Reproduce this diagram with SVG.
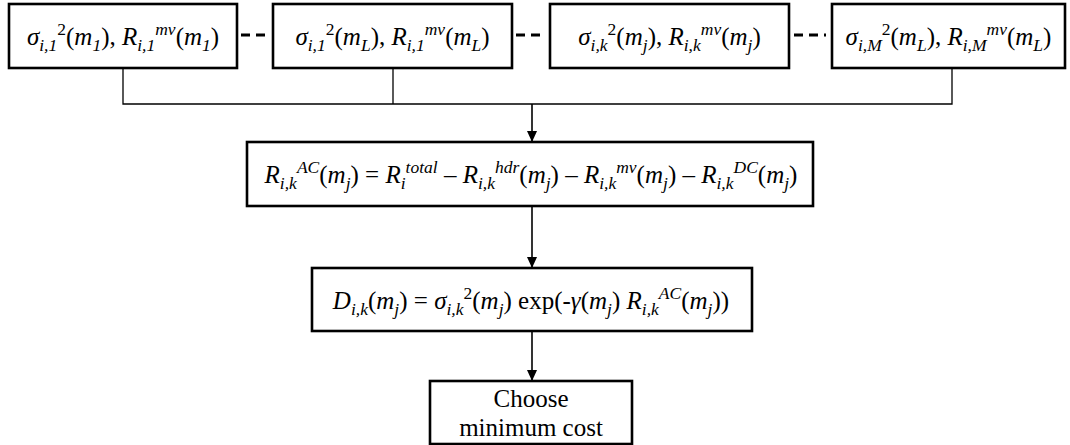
<svg xmlns="http://www.w3.org/2000/svg" width="1070" height="445" viewBox="0 0 1070 445">
<style>
.box{fill:#fff;stroke:#000;stroke-width:2.6}
.f{font-family:"Liberation Serif","Times New Roman",serif;font-size:25px;fill:#000;text-anchor:middle}
.i{font-style:italic}
.s{font-size:17.5px}
.c{fill:none;stroke:#000;stroke-width:1.3}
.a{fill:none;stroke:#000;stroke-width:1.6}
.d{fill:none;stroke:#000;stroke-width:3;stroke-dasharray:9 6}
</style>
<defs>
<marker id="ah" viewBox="0 0 12 12" refX="12" refY="6" markerWidth="12" markerHeight="11" markerUnits="userSpaceOnUse" orient="auto">
<path d="M0,0.5 L12,6 L0,11.5 Z" fill="#000"/>
</marker>
</defs>
<g id="connectors">
<polyline class="c" points="123,68 123,104 952,104 952,68"/>
<line class="c" x1="393" y1="68" x2="393" y2="104"/>
<line class="a" x1="532" y1="104" x2="532" y2="142" marker-end="url(#ah)"/>
<line class="a" x1="532" y1="206" x2="532" y2="268" marker-end="url(#ah)"/>
<line class="a" x1="532" y1="331" x2="532" y2="381" marker-end="url(#ah)"/>
<line class="d" x1="241" y1="35" x2="265" y2="35"/>
<line class="d" x1="516" y1="35" x2="545" y2="35"/>
<line class="d" x1="794" y1="35" x2="826" y2="35"/>
</g>
<g id="n1">
<rect class="box" x="9" y="4" width="228" height="64"/>
<text class="f" x="123" y="45"><tspan class="i">σ</tspan><tspan class="s i" dy="6">i,1</tspan><tspan class="s" dy="-16">2</tspan><tspan dy="10">(</tspan><tspan class="i">m</tspan><tspan class="s i" dy="6">1</tspan><tspan dy="-6">), </tspan><tspan class="i">R</tspan><tspan class="s i" dy="6">i,1</tspan><tspan class="s i" dy="-16">mv</tspan><tspan dy="10">(</tspan><tspan class="i">m</tspan><tspan class="s i" dy="6">1</tspan><tspan dy="-6">)</tspan></text>
</g>
<g id="n2">
<rect class="box" x="273" y="4" width="239" height="64"/>
<text class="f" x="392.5" y="45"><tspan class="i">σ</tspan><tspan class="s i" dy="6">i,1</tspan><tspan class="s" dy="-16">2</tspan><tspan dy="10">(</tspan><tspan class="i">m</tspan><tspan class="s i" dy="6">L</tspan><tspan dy="-6">), </tspan><tspan class="i">R</tspan><tspan class="s i" dy="6">i,1</tspan><tspan class="s i" dy="-16">mv</tspan><tspan dy="10">(</tspan><tspan class="i">m</tspan><tspan class="s i" dy="6">L</tspan><tspan dy="-6">)</tspan></text>
</g>
<g id="n3">
<rect class="box" x="550" y="4" width="239" height="64"/>
<text class="f" x="669.5" y="45"><tspan class="i">σ</tspan><tspan class="s i" dy="6">i,k</tspan><tspan class="s" dy="-16">2</tspan><tspan dy="10">(</tspan><tspan class="i">m</tspan><tspan class="s i" dy="6">j</tspan><tspan dy="-6">), </tspan><tspan class="i">R</tspan><tspan class="s i" dy="6">i,k</tspan><tspan class="s i" dy="-16">mv</tspan><tspan dy="10">(</tspan><tspan class="i">m</tspan><tspan class="s i" dy="6">j</tspan><tspan dy="-6">)</tspan></text>
</g>
<g id="n4">
<rect class="box" x="832" y="4" width="233" height="64"/>
<text class="f" x="948.5" y="45"><tspan class="i">σ</tspan><tspan class="s i" dy="6">i,M</tspan><tspan class="s" dy="-16">2</tspan><tspan dy="10">(</tspan><tspan class="i">m</tspan><tspan class="s i" dy="6">L</tspan><tspan dy="-6">), </tspan><tspan class="i">R</tspan><tspan class="s i" dy="6">i,M</tspan><tspan class="s i" dy="-16">mv</tspan><tspan dy="10">(</tspan><tspan class="i">m</tspan><tspan class="s i" dy="6">L</tspan><tspan dy="-6">)</tspan></text>
</g>
<g id="n5">
<rect class="box" x="247" y="142" width="566" height="64"/>
<text class="f" x="531" y="183"><tspan class="i">R</tspan><tspan class="s i" dy="6">i,k</tspan><tspan class="s i" dy="-16">AC</tspan><tspan dy="10">(</tspan><tspan class="i">m</tspan><tspan class="s i" dy="6">j</tspan><tspan dy="-6">) = </tspan><tspan class="i">R</tspan><tspan class="s i" dy="6">i</tspan><tspan class="s i" dy="-16">total</tspan><tspan dy="10"> – </tspan><tspan class="i">R</tspan><tspan class="s i" dy="6">i,k</tspan><tspan class="s i" dy="-16">hdr</tspan><tspan dy="10">(</tspan><tspan class="i">m</tspan><tspan class="s i" dy="6">j</tspan><tspan dy="-6">) – </tspan><tspan class="i">R</tspan><tspan class="s i" dy="6">i,k</tspan><tspan class="s i" dy="-16">mv</tspan><tspan dy="10">(</tspan><tspan class="i">m</tspan><tspan class="s i" dy="6">j</tspan><tspan dy="-6">) – </tspan><tspan class="i">R</tspan><tspan class="s i" dy="6">i,k</tspan><tspan class="s i" dy="-16">DC</tspan><tspan dy="10">(</tspan><tspan class="i">m</tspan><tspan class="s i" dy="6">j</tspan><tspan dy="-6">)</tspan></text>
</g>
<g id="n6">
<rect class="box" x="312" y="268" width="440" height="63"/>
<text class="f" x="531" y="309"><tspan class="i">D</tspan><tspan class="s i" dy="6">i,k</tspan><tspan dy="-6">(</tspan><tspan class="i">m</tspan><tspan class="s i" dy="6">j</tspan><tspan dy="-6">) = </tspan><tspan class="i">σ</tspan><tspan class="s i" dy="6">i,k</tspan><tspan class="s" dy="-16">2</tspan><tspan dy="10">(</tspan><tspan class="i">m</tspan><tspan class="s i" dy="6">j</tspan><tspan dy="-6">) exp(-</tspan><tspan class="i">γ</tspan><tspan>(</tspan><tspan class="i">m</tspan><tspan class="s i" dy="6">j</tspan><tspan dy="-6">) </tspan><tspan class="i">R</tspan><tspan class="s i" dy="6">i,k</tspan><tspan class="s i" dy="-16">AC</tspan><tspan dy="10">(</tspan><tspan class="i">m</tspan><tspan class="s i" dy="6">j</tspan><tspan dy="-6">))</tspan></text>
</g>
<g id="n7">
<rect class="box" x="430" y="381" width="202" height="63"/>
<text class="f" x="531" y="407">Choose</text>
<text class="f" x="531" y="436">minimum cost</text>
</g>
</svg>
